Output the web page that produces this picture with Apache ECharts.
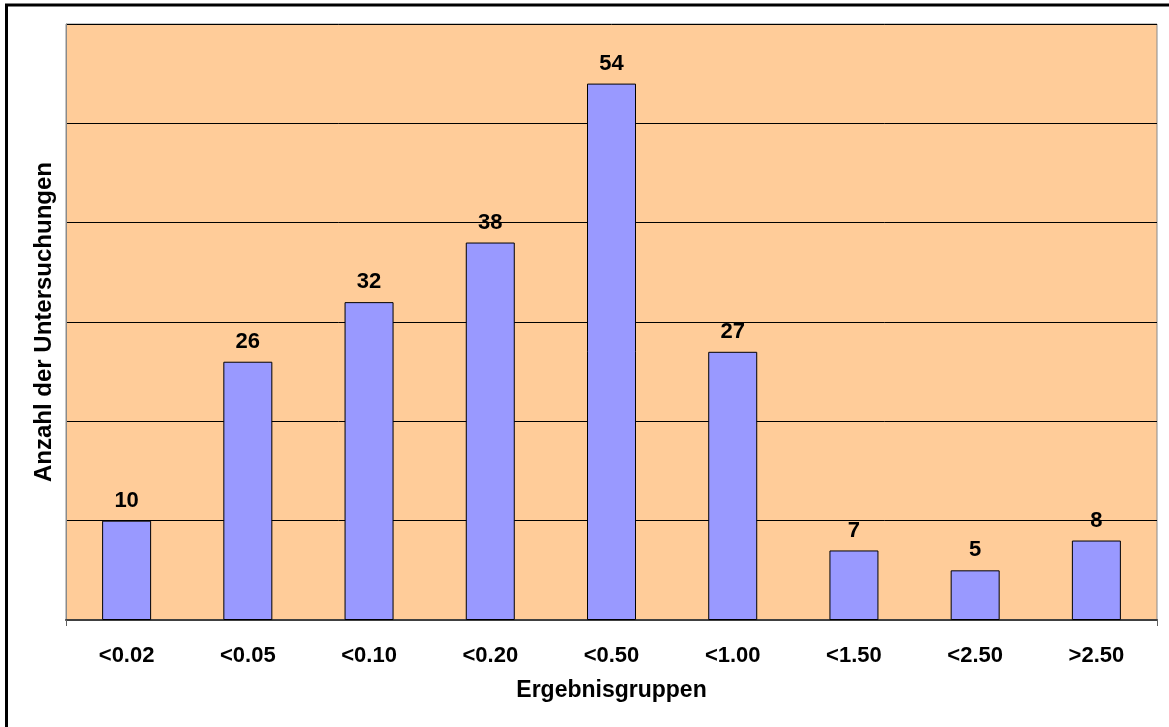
<!DOCTYPE html>
<html>
<head>
<meta charset="utf-8">
<script src="https://cdn.jsdelivr.net/npm/echarts@6/dist/echarts.min.js"></script>
<style>
  html, body { margin: 0; padding: 0; background: #fff; }
  #chart { width: 1169px; height: 727px; }
</style>
</head>
<body>
<div id="chart"></div>
<script>
// Ergebnisgruppen and the number of examinations in each group
const categories = ['<0.02', '<0.05', '<0.10', '<0.20', '<0.50', '<1.00', '<1.50', '<2.50', '>2.50'];
const counts = [10, 26, 32, 38, 54, 27, 7, 5, 8];

const FONT = '"Liberation Sans", Arial, sans-serif';

const chart = echarts.init(document.getElementById('chart'), null, { renderer: 'canvas' });

chart.setOption({
  animation: false,
  backgroundColor: '#ffffff',
  textStyle: { fontFamily: FONT },
  graphic: [{
    // outer frame around the whole figure
    type: 'rect',
    shape: { x: 6.5, y: 5, width: 1300, height: 900 },
    style: { fill: 'none', stroke: '#000', lineWidth: 3 },
    silent: true,
    z: 100
  }],
  grid: {
    left: 66, right: 12, top: 24, bottom: 107,
    show: true,
    backgroundColor: '#FFCC99',
    borderColor: '#8a8a8a',
    borderWidth: 1
  },
  xAxis: {
    type: 'category',
    data: categories,
    name: 'Ergebnisgruppen',
    nameLocation: 'middle',
    nameGap: 59,
    nameTextStyle: { fontFamily: FONT, fontWeight: 'bold', fontSize: 23, color: '#000' },
    axisLine: { show: true, lineStyle: { color: '#404040', width: 2 } },
    axisTick: {
      show: true,
      interval: function (i) { return i === 0; },
      length: 6,
      lineStyle: { color: '#606060', width: 1 }
    },
    axisLabel: { margin: 25, fontFamily: FONT, fontWeight: 'bold', fontSize: 22, color: '#000' },
    splitLine: { show: false }
  },
  yAxis: {
    type: 'value',
    min: 0, max: 60, interval: 10,
    name: 'Anzahl der Untersuchungen',
    nameLocation: 'middle',
    nameGap: 10,
    nameTextStyle: { fontFamily: FONT, fontWeight: 'bold', fontSize: 24, color: '#000' },
    axisLine: { show: true, lineStyle: { color: '#8a8a8a', width: 1 } },
    axisTick: { show: false },
    axisLabel: { show: false },
    splitLine: { show: true, lineStyle: { color: '#000', width: 1 } }
  },
  series: [{
    type: 'bar',
    data: counts,
    barWidth: 49,
    itemStyle: { color: '#9999FF', borderColor: '#000', borderWidth: 1 },
    label: {
      show: true,
      position: 'top',
      distance: 9,
      fontFamily: FONT,
      fontWeight: 'bold',
      fontSize: 22,
      color: '#000'
    }
  }]
});
</script>
</body>
</html>
